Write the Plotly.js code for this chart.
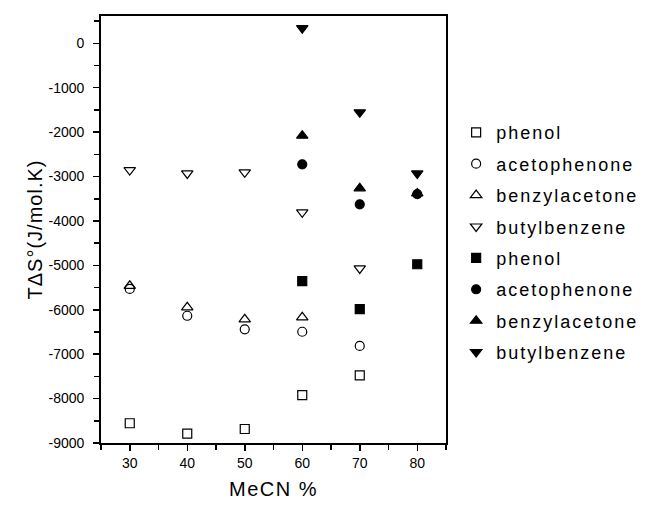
<!DOCTYPE html>
<html>
<head>
<meta charset="utf-8">
<script src="https://cdn.plot.ly/plotly-3.0.1.min.js"></script>
<style>
html,body{margin:0;padding:0;background:#fff;}
#chart{width:647px;height:507px;}
.legendtext{letter-spacing:2px;}
.xtitle{letter-spacing:1.5px;}
.ytitle{letter-spacing:1px;}
</style>
</head>
<body>
<div id="chart"></div>
<script>
// MeCN % values
const xOpen = [30, 40, 50, 60, 70];
const xOpenBenzyl = [30, 40, 50, 60];
const xFilled = [60, 70, 80];

// open symbols
const phenolOpen = [-8555, -8790, -8685, -7920, -7475];
const acetoOpen = [-5530, -6135, -6440, -6495, -6815];
const benzylOpen = [-5460, -5945, -6215, -6170];
const butylOpen = [-2855, -2930, -2905, -3805, -5070];

// filled symbols
const phenolFilled = [-5355, -5985, -4975];
const acetoFilled = [-2725, -3625, -3395];
const benzylFilled = [-2080, -3265, -3380];
const butylFilled = [340, -1555, -2930];

const yTickVals = [0, -1000, -2000, -3000, -4000, -5000, -6000, -7000, -8000, -9000];
const yTickText = ['0', '-1000', '-2000', '-3000', '-4000', '-5000', '-6000', '-7000', '-8000', '-9000'];
const xTickVals = [30, 40, 50, 60, 70, 80];

let g = 0;
function tr(x, y, name, symbol, size) {
  g += 1;
  return {
    x: x, y: y, name: name, type: 'scatter', mode: 'markers', legendgroup: 'g' + g,
    marker: {symbol: symbol, size: size, color: '#000', line: {color: '#000', width: 1.2}}
  };
}

const data = [
  tr(xOpen, phenolOpen, 'phenol', 'square-open', 9),
  tr(xOpen, acetoOpen, 'acetophenone', 'circle-open', 9),
  tr(xOpenBenzyl, benzylOpen, 'benzylacetone', 'triangle-up-open', 10),
  tr(xOpen, butylOpen, 'butylbenzene', 'triangle-down-open', 10),
  tr(xFilled, phenolFilled, 'phenol', 'square', 9),
  tr(xFilled, acetoFilled, 'acetophenone', 'circle', 9),
  tr(xFilled, benzylFilled, 'benzylacetone', 'triangle-up', 10),
  tr(xFilled, butylFilled, 'butylbenzene', 'triangle-down', 10)
];

const FONT = 'Liberation Sans, Arial, sans-serif';
const axisCommon = {
  showline: true, linecolor: '#000', linewidth: 1.8, mirror: true,
  ticks: 'outside', ticklen: 6, tickwidth: 1.5, tickcolor: '#000',
  showgrid: false, zeroline: false,
  tickfont: {family: FONT, size: 14, color: '#000'}
};

const layout = {
  width: 647, height: 507,
  margin: {l: 101, r: 201, t: 16, b: 64},
  paper_bgcolor: '#fff', plot_bgcolor: '#fff',
  showlegend: true,
  legend: {
    xref: 'container', yref: 'container',
    x: 0.705, y: 0.775, xanchor: 'left', yanchor: 'top',
    font: {family: FONT, size: 18, color: '#000'},
    tracegroupgap: 5, itemsizing: 'trace', bgcolor: 'rgba(0,0,0,0)'
  },
  xaxis: Object.assign({}, axisCommon, {
    range: [25, 85], tickvals: xTickVals,
    minor: {dtick: 5, ticks: 'outside', ticklen: 5, tickcolor: '#000', tickwidth: 1.5},
    title: {text: 'MeCN %', font: {family: FONT, size: 20, color: '#000'}, standoff: 12}
  }),
  yaxis: Object.assign({}, axisCommon, {
    range: [-9000, 615], tickvals: yTickVals, ticktext: yTickText,
    ticklabelstandoff: 6,
    minor: {dtick: 500, ticks: 'outside', ticklen: 5, tickcolor: '#000', tickwidth: 1.5},
    title: {text: 'TΔS°(J/mol.K)', font: {family: FONT, size: 20, color: '#000'}, standoff: 0}
  })
};

Plotly.newPlot('chart', data, layout, {displayModeBar: false, staticPlot: true});
</script>
</body>
</html>
